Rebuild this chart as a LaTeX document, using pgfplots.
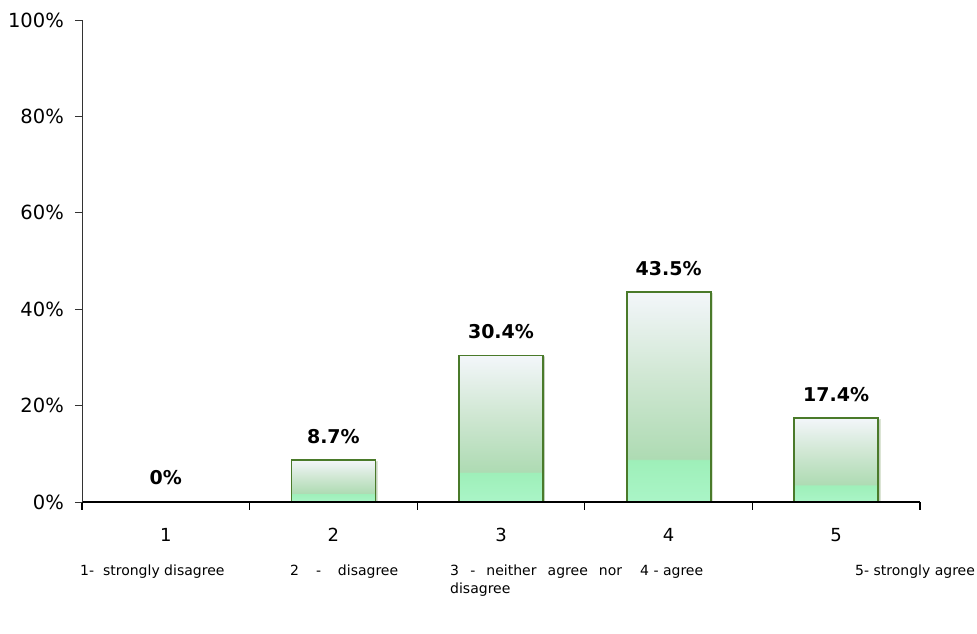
\documentclass[border=0pt]{standalone}
\usepackage{pgfplots}
\pgfplotsset{compat=1.18}
\usetikzlibrary{shadows}
\usepackage{fontspec}
\setmainfont{DejaVu Sans}
\definecolor{barline}{HTML}{4A7A2A}
\definecolor{shTop}{HTML}{F3F6FA}
\definecolor{shMid}{HTML}{D0E7D3}
\definecolor{shLow}{HTML}{AEDBB3}
\definecolor{shMint}{HTML}{9EEFB9}
\definecolor{shBot}{HTML}{AAF5C7}
\pgfdeclareverticalshading{barshade}{100bp}{color(0bp)=(shBot); color(25bp)=(shBot); color(35bp)=(shMint); color(35.3bp)=(shLow); color(55bp)=(shMid); color(75bp)=(shTop); color(100bp)=(shTop)}
\begin{document}
\begin{tikzpicture}
\useasboundingbox (-82pt,-132pt) rectangle (895pt,502pt);
\begin{axis}[
  at={(0,0)}, anchor=south west,
  scale only axis, width=838pt, height=482pt,
  xmin=0.5, xmax=5.5, ymin=0, ymax=100,
  axis x line=bottom, axis y line=left,
  x axis line style={-, black, line width=1.4pt},
  y axis line style={-, black!80, line width=0.8pt},
  axis on top,
  tick align=outside,
  major tick length=7pt,
  minor tick length=8pt,
  xtick={1,2,3,4,5},
  xticklabels={1,2,3,4,5},
  minor xtick={0.5,1.5,2.5,3.5,4.5,5.5},
  major x tick style={draw=none},
  minor x tick style={black, line width=1.2pt},
  ytick={0,20,40,60,80,100},
  yticklabels={0\%,20\%,40\%,60\%,80\%,100\%},
  y tick style={black!80, line width=0.8pt},
  xticklabel style={font=\fontsize{18}{18}\selectfont, anchor=base, yshift=-33pt},
  yticklabel style={font=\fontsize{19.5}{19.5}\selectfont, anchor=east, inner sep=0pt, xshift=-11pt},
  ybar, bar width=84pt,
  nodes near coords,
  point meta=explicit symbolic,
  nodes near coords style={font=\bfseries\fontsize{19}{19}\selectfont, anchor=base, inner sep=0pt, yshift=17pt},
]
\addplot[draw=none, fill=none, bar shift=0pt] coordinates {(1,0) [0\%]};
\addplot[draw=barline, line width=1.8pt, shading=barshade, bar shift=0pt,
  drop shadow={shadow xshift=1.5pt, shadow yshift=-1.5pt, opacity=0.2}]
  coordinates {(2,8.7) [8.7\%]};
\addplot[draw=barline, line width=1.8pt, shading=barshade, bar shift=0pt,
  drop shadow={shadow xshift=1.5pt, shadow yshift=-1.5pt, opacity=0.2}]
  coordinates {(3,30.4) [30.4\%]};
\addplot[draw=barline, line width=1.8pt, shading=barshade, bar shift=0pt,
  drop shadow={shadow xshift=1.5pt, shadow yshift=-1.5pt, opacity=0.2}]
  coordinates {(4,43.5) [43.5\%]};
\addplot[draw=barline, line width=1.8pt, shading=barshade, bar shift=0pt,
  drop shadow={shadow xshift=1.5pt, shadow yshift=-1.5pt, opacity=0.2}]
  coordinates {(5,17.4) [17.4\%]};
\end{axis}
\begin{scope}[every node/.style={inner sep=0pt, anchor=base west, font=\fontsize{14}{14}\selectfont}]
\node at (-2pt,-73pt) {1-\ \ strongly disagree};
\node at (208pt,-73pt) {\makebox[108pt][s]{2\hfill-\hfill disagree}};
\node at (368pt,-73pt) {\makebox[172pt][s]{3\hfill-\hfill neither\hfill agree\hfill nor}};
\node at (368pt,-91pt) {disagree};
\node at (558pt,-73pt) {4 - agree};
\node at (773pt,-73pt) {5- strongly agree};
\end{scope}
\end{tikzpicture}
\end{document}
